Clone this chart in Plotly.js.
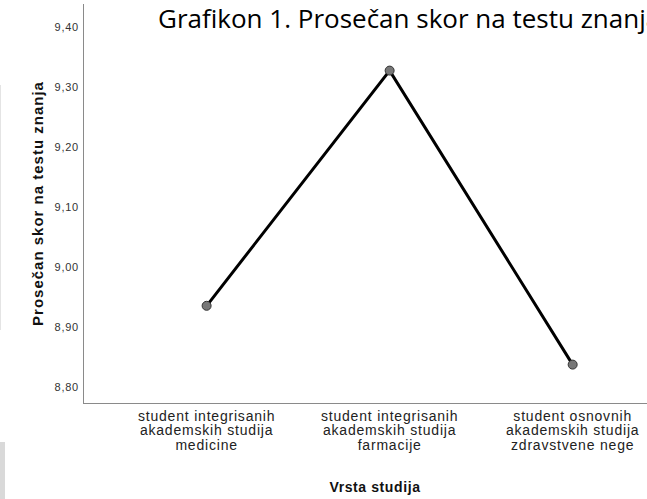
<!DOCTYPE html>
<html>
<head>
<meta charset="utf-8">
<script src="https://cdn.plot.ly/plotly-3.0.1.min.js"></script>
<style>
html,body{margin:0;padding:0;overflow:hidden;background:#fff;}
#chart{width:700px;height:499px;}
#chart .xtick text{letter-spacing:0.8px;}
#chart .ytick text{letter-spacing:0.7px;}
#chart .ytitle{letter-spacing:1px;}
#chart .xtitle{letter-spacing:0.6px;}
</style>
</head>
<body>
<div id="chart"></div>
<script>
// ---- data ----
const categories = [
  "student integrisanih<br>akademskih studija<br>medicine",
  "student integrisanih<br>akademskih studija<br>farmacije",
  "student osnovnih<br>akademskih studija<br>zdravstvene nege"
];
const meanScores = [8.936, 9.328, 8.838];
const yTickValues = [8.80, 8.90, 9.00, 9.10, 9.20, 9.30, 9.40];
const chartTitle = "Grafikon 1. Prosečan skor na testu znanja";
const xTitle = "Vrsta studija";
const yTitle = "Prosečan skor na testu znanja";

// ---- layout geometry ----
const W = 700, H = 499;
const M = {l: 84, r: 34, t: 4, b: 96};
const pw = W - M.l - M.r, ph = H - M.t - M.b;
const px = x => (x - M.l) / pw;
const py = y => (H - M.b - y) / ph;

const trace = {
  type: "scatter",
  mode: "lines+markers",
  x: categories,
  y: meanScores,
  line: {color: "#000", width: 3},
  marker: {color: "#777", size: 9, line: {color: "#333", width: 1}},
  hoverinfo: "skip"
};

const layout = {
  width: W, height: H,
  margin: M,
  paper_bgcolor: "#fff", plot_bgcolor: "#fff",
  separators: ", ",
  showlegend: false,
  font: {family: "Liberation Sans, Arial, sans-serif", color: "#222"},
  xaxis: {
    type: "category",
    range: [-0.67, 2.51],
    showline: true, linecolor: "#8a8a8a", linewidth: 1,
    showgrid: false, zeroline: false, ticks: "",
    tickfont: {family: "Liberation Sans, Arial, sans-serif", size: 14, color: "#222"},
    title: {text: xTitle, font: {family: "Liberation Sans, Arial, sans-serif", size: 14, weight: "bold", color: "#111"}, standoff: 22},
    fixedrange: true
  },
  yaxis: {
    range: [8.774, 9.439],
    tickvals: yTickValues,
    tickformat: ".2f",
    showline: true, linecolor: "#8a8a8a", linewidth: 1,
    showgrid: false, zeroline: false,
    ticks: "outside", ticklen: 2, tickcolor: "rgba(0,0,0,0)",
    tickfont: {family: "Liberation Sans, Arial, sans-serif", size: 11, color: "#333"},
    title: {text: yTitle, font: {family: "Liberation Sans, Arial, sans-serif", size: 15, weight: "bold", color: "#111"}, standoff: 10},
    fixedrange: true
  },
  annotations: [{
    text: chartTitle,
    xref: "paper", yref: "paper",
    x: px(156), y: py(-2),
    xanchor: "left", yanchor: "top",
    showarrow: false,
    font: {family: "Open Sans, sans-serif", size: 26, color: "#000"}
  }],
  shapes: [
    {type: "line", xref: "paper", yref: "paper", x0: px(0.5), x1: px(0.5), y0: py(85), y1: py(330), line: {color: "#e4e4e4", width: 1}},
    {type: "rect", xref: "paper", yref: "paper", x0: px(0), x1: px(5), y0: py(442), y1: py(499), fillcolor: "#d9d9d9", line: {width: 0}}
  ]
};

Plotly.newPlot("chart", [trace], layout, {staticPlot: true, displayModeBar: false}).then(gd => {
  // tighter line spacing for the multi-line category labels
  gd.querySelectorAll(".xtick text").forEach(t => {
    t.querySelectorAll("tspan.line").forEach((s, i) => {
      const dy = s.getAttribute("dy");
      if (i > 0 && dy) s.setAttribute("dy", (parseFloat(dy) * 0.8) + "em");
    });
  });
});
</script>
</body>
</html>
